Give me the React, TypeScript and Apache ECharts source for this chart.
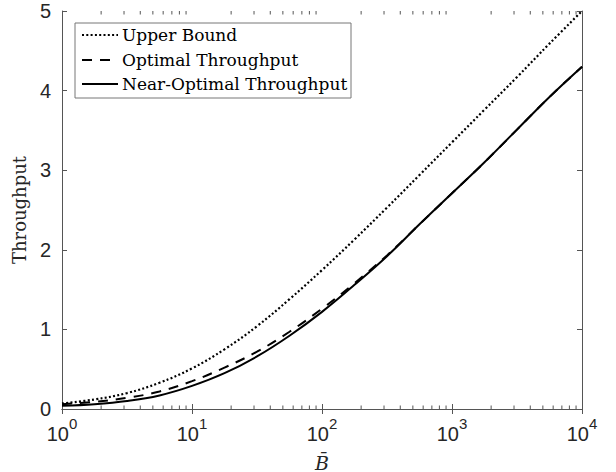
import React, { useEffect, useRef } from "react";
import * as echarts from "echarts";

// x values (B̄), log-spaced every quarter decade
const bValues = [1, 1.778, 3.162, 5.623, 10, 17.78, 31.62, 56.23, 100, 177.8, 316.2, 562.3, 1000, 1778, 3162, 5623, 10000];
const upperBound = [0.07, 0.12, 0.2, 0.33, 0.51, 0.75, 1.04, 1.38, 1.745, 2.13, 2.53, 2.94, 3.35, 3.76, 4.17, 4.59, 5.0];
const optimalThroughput = [0.06, 0.09, 0.14, 0.22, 0.35, 0.52, 0.72, 0.97, 1.26, 1.58, 1.93, 2.32, 2.71, 3.1, 3.51, 3.92, 4.3];
const nearOptimalThroughput = [0.04, 0.06, 0.1, 0.17, 0.29, 0.45, 0.66, 0.92, 1.22, 1.56, 1.92, 2.32, 2.71, 3.1, 3.51, 3.92, 4.3];
const seriesNames = ["Upper Bound", "Optimal Throughput", "Near-Optimal Throughput"];
const yTicks = [0, 1, 2, 3, 4, 5];
const decades = [1, 10, 100, 1000];
const minorMultipliers = [2, 3, 4, 5, 6, 7, 8, 9];

const AXIS_COLOR = "#555";
const TEXT_COLOR = "#262626";
const SERIF = "'DejaVu Serif', 'Liberation Serif', serif";
const SANS = "'Liberation Sans', Arial, Helvetica, sans-serif";

const DOT: number[] = [2, 2.3];
const DASH: number[] = [10, 8];

export default function App() {
  const ref = useRef<HTMLDivElement>(null);
  useEffect(() => {
    if (!ref.current) return;
    const chart = echarts.init(ref.current, null, { renderer: "svg" });
    const pair = (ys: number[]) => bValues.map((b, i) => [b, ys[i]]);
    const minorTicks: number[][] = [];
    decades.forEach((d) => minorMultipliers.forEach((m) => minorTicks.push([d * m, 0])));
    const yMin = yTicks[0];
    const yMax = yTicks[yTicks.length - 1];

    const xAxisBase = {
      type: "log",
      logBase: 10,
      min: 1,
      max: 10000,
      axisLine: { show: true, lineStyle: { color: AXIS_COLOR, width: 1 } },
      axisTick: { show: true, inside: true, length: 5, lineStyle: { color: AXIS_COLOR } },
      splitLine: { show: false },
      minorTick: { show: false },
    };
    const yAxisBase = {
      type: "value",
      min: yMin,
      max: yMax,
      interval: 1,
      axisLine: { show: true, lineStyle: { color: AXIS_COLOR, width: 1 } },
      axisTick: { show: true, inside: true, length: 5, lineStyle: { color: AXIS_COLOR } },
      splitLine: { show: false },
    };

    const minorTickSeries = (atTop: boolean) => ({
      type: "custom",
      name: atTop ? "minorTop" : "minorBottom",
      xAxisIndex: 0,
      yAxisIndex: 0,
      silent: true,
      clip: false,
      z: 5,
      data: minorTicks,
      encode: { x: 0, y: 1 },
      renderItem: (_params: any, api: any) => {
        const x = api.value(0);
        const p = api.coord([x, atTop ? yMax : yMin]);
        const dir = atTop ? 1 : -1;
        return {
          type: "line",
          shape: { x1: p[0], y1: p[1], x2: p[0], y2: p[1] + dir * 3.5 },
          style: { stroke: AXIS_COLOR, lineWidth: 1 },
        };
      },
    });

    // legend box (drawn as graphic)
    const lgLeft = 75;
    const lgTop = 23;
    const rowY = [35, 60, 84];
    const dashes = [DOT, DASH, null];
    const legendChildren: any[] = [
      {
        type: "rect",
        shape: { x: lgLeft, y: lgTop, width: 276, height: 75 },
        style: { fill: "#fff", stroke: "#777", lineWidth: 1 },
      },
    ];
    seriesNames.forEach((name, i) => {
      legendChildren.push({
        type: "line",
        shape: { x1: 82, y1: rowY[i], x2: 118, y2: rowY[i] },
        style: { stroke: "#000", lineWidth: i === 0 ? 2.2 : 2, lineDash: dashes[i] || undefined },
      });
      legendChildren.push({
        type: "text",
        x: 122,
        y: rowY[i],
        style: {
          text: name,
          fill: "#000",
          font: `17px ${SERIF}`,
          verticalAlign: "middle",
          align: "left",
        },
      });
    });

    chart.setOption({
      animation: false,
      backgroundColor: "#fff",
      grid: { left: 62, right: 34, top: 11, bottom: 63, outerBoundsMode: "none", containLabel: false },
      xAxis: [
        {
          ...xAxisBase,
          position: "bottom",
          name: "B\u0304",
          nameLocation: "middle",
          nameGap: 44,
          nameTextStyle: { fontFamily: SERIF, fontStyle: "italic", fontSize: 19, color: TEXT_COLOR },
          axisLabel: {
            margin: 7,
            formatter: (v: number) => `{b|10}{s|${Math.round(Math.log10(v))}}`,
            rich: {
              b: { fontFamily: SANS, fontSize: 20, lineHeight: 20, color: TEXT_COLOR, verticalAlign: "bottom" },
              s: { fontFamily: SANS, fontSize: 15, lineHeight: 28, color: TEXT_COLOR, verticalAlign: "top" },
            },
          },
        },
        {
          ...xAxisBase,
          position: "top",
          axisLabel: { show: false },
        },
      ],
      yAxis: [
        {
          ...yAxisBase,
          position: "left",
          name: "Throughput",
          nameLocation: "middle",
          nameGap: 31,
          nameRotate: 90,
          nameTextStyle: { fontFamily: SERIF, fontSize: 18, color: TEXT_COLOR },
          axisLabel: { margin: 11, fontFamily: SANS, fontSize: 20, color: TEXT_COLOR },
        },
        {
          ...yAxisBase,
          position: "right",
          axisLabel: { show: false },
        },
      ],
      graphic: [{ type: "group", z: 100, children: legendChildren }],
      series: [
        minorTickSeries(false),
        minorTickSeries(true),
        {
          name: seriesNames[0],
          type: "line",
          data: pair(upperBound),
          showSymbol: false,
          symbol: "none",
          smooth: 0.4,
          lineStyle: { color: "#000", width: 2.2, type: DOT },
        },
        {
          name: seriesNames[1],
          type: "line",
          data: pair(optimalThroughput),
          showSymbol: false,
          symbol: "none",
          smooth: 0.4,
          lineStyle: { color: "#000", width: 2, type: DASH },
        },
        {
          name: seriesNames[2],
          type: "line",
          data: pair(nearOptimalThroughput),
          showSymbol: false,
          symbol: "none",
          smooth: 0.4,
          lineStyle: { color: "#000", width: 2, type: "solid" },
        },
      ],
    });
    return () => chart.dispose();
  }, []);
  return (
    <div
      ref={ref}
      style={{ position: "fixed", left: 0, top: 0, width: 616, height: 472, background: "#fff" }}
    />
  );
}
